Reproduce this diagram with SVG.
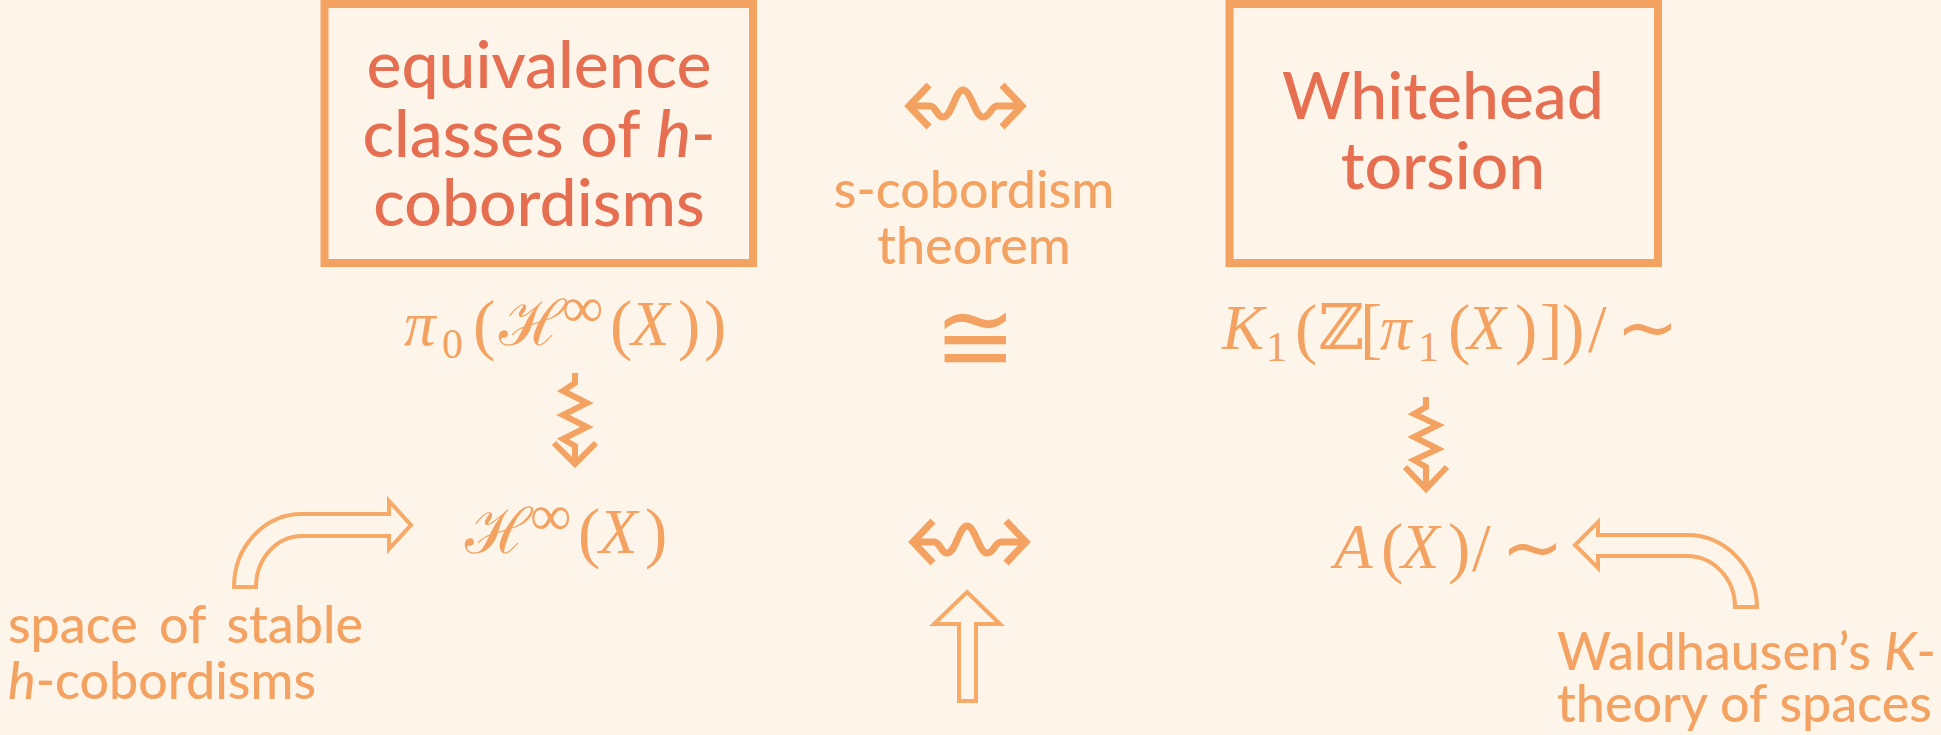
<svg xmlns="http://www.w3.org/2000/svg" width="1941" height="735" viewBox="0 0 1941 735">
<style>
.box{fill:none;stroke:#F4A261;stroke-width:8}
.title{font-family:Lato,"Open Sans",sans-serif;font-size:66px;font-weight:500;fill:#E76F51;text-anchor:middle}
.lbl{font-family:Lato,"Open Sans",sans-serif;font-size:52px;font-weight:500;fill:#F4A261}
.m{font-family:"Liberation Serif","DejaVu Serif",serif;font-size:63px;fill:#F4A261}
.i{font-style:italic}
.p{font-size:67px}
.inf{font-size:58px}
.sim{font-family:"DejaVu Sans",sans-serif;font-size:75px}
.sq{fill:none;stroke:#F4A261;stroke-width:7;stroke-linecap:butt;stroke-linejoin:miter}
.sv{fill:none;stroke:#F4A261;stroke-width:6;stroke-linejoin:miter}
.hol{fill:none;stroke:#F7AA68;stroke-width:4;stroke-linejoin:miter}
</style>
<rect width="1941" height="735" fill="#FDF5E9"/>

<g id="node-equivalence">
<rect class="box" x="324.5" y="4" width="428.5" height="259"/>
<text class="title" x="539" y="88">equivalence</text>
<text class="title" x="539" y="157">classes of <tspan font-style="italic">h</tspan>-</text>
<text class="title" x="539" y="226">cobordisms</text>
</g>

<g id="node-whitehead">
<rect class="box" x="1229.5" y="4" width="428.5" height="259"/>
<text class="title" x="1443" y="119">Whitehead</text>
<text class="title" x="1443" y="189">torsion</text>
</g>

<g id="node-s-cobordism">
<text class="lbl" x="974" y="208" text-anchor="middle">s-cobordism</text>
<text class="lbl" x="974" y="264" text-anchor="middle">theorem</text>
</g>

<g id="node-pi0">
<text class="m" y="345"><tspan x="404" class="i">π</tspan><tspan x="442" y="358" font-size="42">0</tspan><tspan x="473" y="347" class="p">(</tspan><tspan x="499" y="345">ℋ</tspan><tspan x="562" y="327" class="inf">∞</tspan><tspan x="610" y="347" class="p">(</tspan><tspan x="631" y="345" class="i">X</tspan><tspan x="678" y="347" class="p">)</tspan><tspan x="704" class="p">)</tspan></text>
</g>

<g id="node-iso">
<text x="975" y="371" font-family="DejaVu Sans,sans-serif" font-size="98" fill="#F4A261" text-anchor="middle">≅</text>
</g>

<g id="node-k1">
<text class="m" y="349"><tspan x="1222" class="i">K</tspan><tspan x="1266" y="361" font-size="42">1</tspan><tspan x="1295" y="351" class="p">(</tspan><tspan x="1318" y="349">ℤ</tspan><tspan x="1360" y="351" class="p">[</tspan><tspan x="1380" y="349" class="i">π</tspan><tspan x="1418" y="361" font-size="42">1</tspan><tspan x="1448" y="351" class="p">(</tspan><tspan x="1467" y="349" class="i">X</tspan><tspan x="1515" y="351" class="p">)</tspan><tspan x="1540" class="p">]</tspan><tspan x="1562" class="p">)</tspan><tspan x="1588" class="p">/</tspan><tspan x="1616" y="353" class="sim">∼</tspan></text>
</g>

<g id="node-hinf">
<text class="m" y="553"><tspan x="465">ℋ</tspan><tspan x="530" y="535" class="inf">∞</tspan><tspan x="578" y="555" class="p">(</tspan><tspan x="599" y="553" class="i">X</tspan><tspan x="645" y="555" class="p">)</tspan></text>
</g>

<g id="node-ax">
<text class="m" y="568"><tspan x="1334" class="i">A</tspan><tspan x="1381" y="570" class="p">(</tspan><tspan x="1401" y="568" class="i">X</tspan><tspan x="1448" y="570" class="p">)</tspan><tspan x="1472" class="p">/</tspan><tspan x="1501" y="573" class="sim">∼</tspan></text>
</g>

<g id="node-stable">
<text class="lbl" x="8" y="643" word-spacing="8">space of stable</text>
<text class="lbl" x="8" y="699"><tspan font-style="italic">h</tspan>-cobordisms</text>
</g>

<g id="node-waldhausen">
<text class="lbl" x="1557" y="670">Waldhausen’s <tspan font-style="italic">K</tspan>-</text>
<text class="lbl" x="1557" y="722">theory of spaces</text>
</g>

<g id="connectors">
<g id="squig-top">
<path class="sq" d="M929,85 L909,106 L929,127 M1002,85 L1022,106 L1002,127"/>
<path class="sq" d="M911,106 H930 C936,106 937,117 943,117 C952,117 955,90 963,90 C971,90 975,117 983,117 C990,117 991,106 997,106 H1020"/>
</g>
<g id="squig-bottom" transform="translate(4,436)">
<path class="sq" d="M929,85 L909,106 L929,127 M1002,85 L1022,106 L1002,127"/>
<path class="sq" d="M911,106 H930 C936,106 937,117 943,117 C952,117 955,90 963,90 C971,90 975,117 983,117 C990,117 991,106 997,106 H1020"/>
</g>
<path class="sv" d="M575,373 L575,383 L563,391 L587,403 L563,415 L587,427 L563,439 L575,446 L575,462 M554,443 L575,464 L596,443"/>
<path class="sv" d="M1426,397 L1426,407 L1414,414 L1438,425 L1414,437 L1438,449 L1414,460 L1426,467 L1426,487 M1405,467 L1426,489 L1447,467"/>
<path class="hol" d="M234,587 A68,73 0 0 1 302,514 L389,514 L389,501 L411,525 L389,549 L389,536 L302,536 A46,51 0 0 0 256,587 Z"/>
<path class="hol" d="M1757,607 A70,73 0 0 0 1687,535 L1598,535 L1598,522 L1575,545 L1598,568 L1598,556 L1687,556 A48,51 0 0 1 1735,607 Z"/>
<path class="hol" d="M967,592 L1000,624 L976,624 L976,701 L959,701 L959,624 L934,624 Z"/>
</g>
</svg>
